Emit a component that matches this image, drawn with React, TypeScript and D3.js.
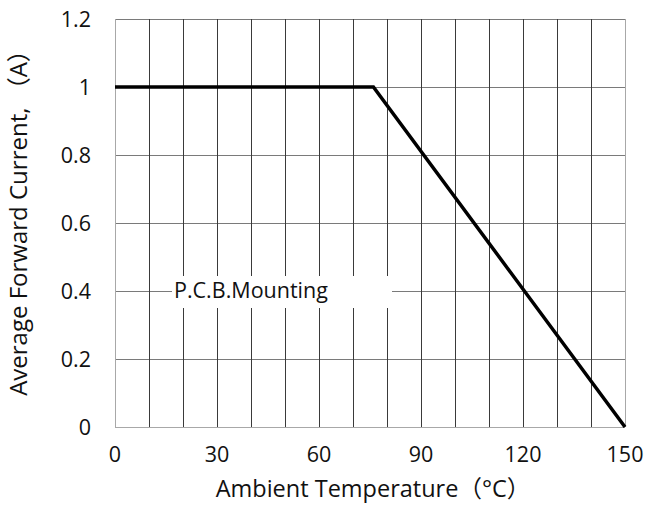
import * as React from "react";
import * as d3 from "d3";

// derating curve
const temps = [0, 76, 150];
const current = [1, 1, 0];
const xTicks = [0, 30, 60, 90, 120, 150];
const yTicks = [0, 0.2, 0.4, 0.6, 0.8, 1, 1.2];
const xGrid = d3.range(0, 151, 10);
const annotation = "P.C.B.Mounting";
const annotationY = 0.4;

const W = 647;
const H = 510;
const margin = { top: 19, right: 22, bottom: 83, left: 115 };
const font = "'Open Sans', 'Noto Sans CJK SC', sans-serif";

export default function App() {
  const x = d3.scaleLinear().domain([0, 150]).range([margin.left, W - margin.right]);
  const y = d3.scaleLinear().domain([0, 1.2]).range([H - margin.bottom, margin.top]);

  const line = d3.line<number>()
    .x((d, i) => x(temps[i]))
    .y(d => y(d));

  const [x0, x1] = x.range();
  const [y0, y1] = y.range();

  return (
    <svg width={W} height={H} style={{ position: "absolute", left: 0, top: 0, background: "#fff" }}>
      {/* horizontal grid */}
      {yTicks.map(t => (
        <line key={"h" + t} x1={x0} x2={x1} y1={y(t) + 0.5} y2={y(t) + 0.5}
          stroke={t === 0 ? "#a8a8a8" : "#7a7a7a"} strokeWidth={1} />
      ))}
      {/* vertical grid */}
      {xGrid.map(t => (
        <line key={"v" + t} x1={x(t) + 0.5} x2={x(t) + 0.5} y1={y1} y2={y0}
          stroke={t === 0 || t === 150 ? "#a8a8a8" : "#3a3a3a"} strokeWidth={1} />
      ))}

      {/* label box hides grid behind it */}
      <rect x={172} y={y(annotationY) - 15} width={220} height={32} fill="#fff" />
      <text x={174} y={y(annotationY) + 7} fontFamily={font} fontSize={21.5} fill="#111">
        {annotation}
      </text>

      <path d={line(current) || ""} fill="none" stroke="#000" strokeWidth={3.5} strokeLinejoin="miter" />

      {/* tick labels */}
      {yTicks.map(t => (
        <text key={"yl" + t} x={91} y={y(t)} dy="0.36em" textAnchor="end"
          fontFamily={font} fontSize={21.5} fill="#111">{d3.format("~g")(t)}</text>
      ))}
      {xTicks.map(t => (
        <text key={"xl" + t} x={x(t)} y={462} textAnchor="middle"
          fontFamily={font} fontSize={21.5} fill="#111">{t}</text>
      ))}

      <text x={373} y={497} textAnchor="middle" fontFamily={font} fontSize={23.5} fill="#111">
        Ambient Temperature（°C）
      </text>
      <text transform={`translate(27,217) rotate(-90)`} textAnchor="middle"
        fontFamily={font} fontSize={24} fill="#111">
        Average Forward Current, （A）
      </text>
    </svg>
  );
}
